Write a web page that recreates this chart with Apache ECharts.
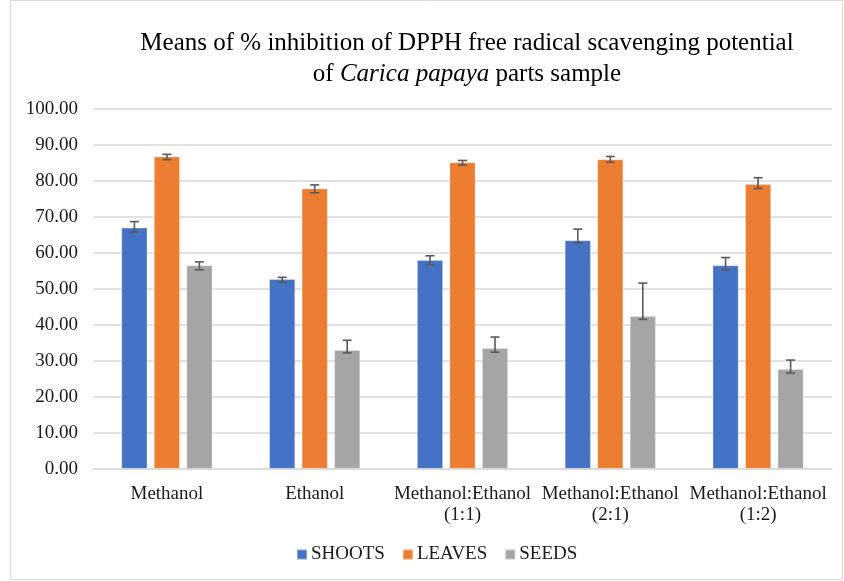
<!DOCTYPE html>
<html>
<head>
<meta charset="utf-8">
<script src="https://cdn.jsdelivr.net/npm/echarts@6/dist/echarts.min.js"></script>
<style>
html,body{margin:0;padding:0;background:#fff;}
#c{width:844px;height:581px;}
</style>
</head>
<body>
<div id="c"></div>
<script>
const categories = ['Methanol', 'Ethanol', 'Methanol:Ethanol\n(1:1)', 'Methanol:Ethanol\n(2:1)', 'Methanol:Ethanol\n(1:2)'];
const seriesNames = ['SHOOTS', 'LEAVES', 'SEEDS'];
const shoots = [67.0, 52.7, 58.0, 63.5, 56.5];
const leaves = [86.8, 77.9, 85.2, 86.0, 79.1];
const seeds  = [56.5, 33.0, 33.5, 42.4, 27.7];
const shootsErrPlus  = [1.7, 0.5, 1.2, 3.1, 2.2];
const shootsErrMinus = [1.2, 0.9, 1.3, 0.8, 1.2];
const leavesErrPlus  = [0.6, 1.0, 0.5, 0.8, 1.8];
const leavesErrMinus = [0.9, 1.2, 0.8, 0.8, 1.2];
const seedsErrPlus   = [1.0, 2.7, 3.1, 9.2, 2.5];
const seedsErrMinus  = [1.2, 0.8, 1.1, 0.9, 1.1];
const yTicks = [0, 10, 20, 30, 40, 50, 60, 70, 80, 90, 100];

const colors = ['#4472C4', '#ED7D31', '#A5A5A5'];
const values = [shoots, leaves, seeds];
const errP = [shootsErrPlus, leavesErrPlus, seedsErrPlus];
const errM = [shootsErrMinus, leavesErrMinus, seedsErrMinus];

const BAR_W = 26;
const GAP = 0.25;
const font = '"Liberation Serif", "Times New Roman", serif';

const errData = [];
values.forEach((arr, s) => arr.forEach((v, i) => {
  errData.push([i, s, v - errM[s][i], v + errP[s][i]]);
}));

const chart = echarts.init(document.getElementById('c'));
chart.setOption({
  animation: false,
  color: colors,
  title: {
    text: 'Means of % inhibition of DPPH free radical scavenging potential\n{n|of }{i|Carica papaya}{n| parts sample}',
    left: 462, top: 23, textAlign: 'center',
    textStyle: {
      fontFamily: font, fontSize: 25, fontWeight: 'normal', color: '#000', lineHeight: 31,
      rich: {
        n: {fontFamily: font, fontSize: 25, color: '#000', lineHeight: 31},
        i: {fontFamily: font, fontSize: 25, color: '#000', fontStyle: 'italic', lineHeight: 31}
      }
    }
  },
  legend: {
    data: seriesNames,
    top: 540, left: 291,
    icon: 'rect', itemWidth: 10, itemHeight: 10, itemGap: 17,
    textStyle: {fontFamily: font, fontSize: 19, color: '#1a1a1a', padding: [0, 0, 0, -1]}
  },
  grid: {left: 93, right: 12, top: 109, bottom: 112.3},
  xAxis: {
    type: 'category', data: categories,
    axisTick: {show: false},
    axisLine: {lineStyle: {color: '#d9d9d9', width: 1.5}},
    axisLabel: {fontFamily: font, fontSize: 19, color: '#1a1a1a', margin: 15, lineHeight: 21, interval: 0}
  },
  yAxis: {
    type: 'value', min: 0, max: 100, interval: 10,
    axisLine: {show: false}, axisTick: {show: false},
    splitLine: {lineStyle: {color: '#d9d9d9', width: 1.5}},
    axisLabel: {fontFamily: font, fontSize: 19, color: '#1a1a1a', margin: 15,
      formatter: v => yTicks.includes(v) ? v.toFixed(2) : ''}
  },
  series: values.map((arr, s) => ({
    name: seriesNames[s], type: 'bar', data: arr,
    barWidth: BAR_W, barGap: (GAP * 100) + '%',
    itemStyle: {color: colors[s], borderColor: 'rgba(255,255,255,0.35)', borderWidth: 0.8}
  })).concat([{
    type: 'custom', name: 'err', silent: true, z: 10,
    data: errData,
    renderItem: function (params, api) {
      const cat = api.value(0), s = api.value(1);
      const off = (s - 1) * BAR_W * (1 + GAP);
      const lo = api.coord([cat, api.value(2)]);
      const hi = api.coord([cat, api.value(3)]);
      const x = lo[0] + off;
      const hw = 4.5;
      const st = {stroke: '#595959', lineWidth: 1.6};
      return {type: 'group', children: [
        {type: 'line', shape: {x1: x, y1: lo[1], x2: x, y2: hi[1]}, style: st},
        {type: 'line', shape: {x1: x - hw, y1: lo[1], x2: x + hw, y2: lo[1]}, style: st},
        {type: 'line', shape: {x1: x - hw, y1: hi[1], x2: x + hw, y2: hi[1]}, style: st}
      ]};
    }
  }]),
  graphic: [{
    type: 'rect', silent: true,
    shape: {x: 10.5, y: 0.5, width: 832, height: 579},
    style: {fill: 'none', stroke: '#d9d9d9', lineWidth: 1}
  }]
});
</script>
</body>
</html>
